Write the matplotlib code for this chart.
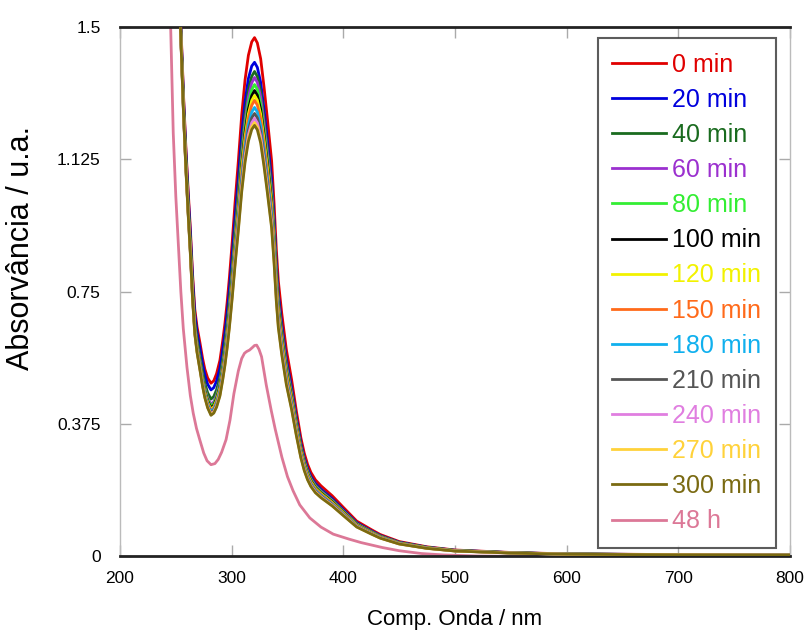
import numpy as np
import matplotlib
matplotlib.use('Agg')
import matplotlib.pyplot as plt

plt.rcParams['font.family'] = ['Liberation Sans', 'DejaVu Sans']

# curva de referência (0 min)
wl_base = [240, 244, 248, 251, 254.6, 257, 259, 261, 263, 265, 267, 269, 271.6, 274, 276,
           278.5, 281.5, 284, 286.5, 289.5, 292, 294, 296, 298, 300.5, 303, 306, 309, 312,
           315, 318, 320.5, 323, 326, 329, 332, 335.8, 338, 340, 341.8, 344.8, 349, 353.7,
           358, 362, 365, 368, 371, 375, 380, 385, 390, 400, 412, 425, 433, 450, 475, 500,
           550, 600, 700, 800]
abs_base = [3.4, 2.8, 2.2, 1.8, 1.5, 1.30, 1.16, 1.04, 0.93, 0.80, 0.70, 0.65, 0.605, 0.56,
            0.53, 0.505, 0.49, 0.497, 0.517, 0.555, 0.61, 0.66, 0.72, 0.79, 0.89, 1.00, 1.12,
            1.25, 1.35, 1.42, 1.458, 1.47, 1.455, 1.41, 1.33, 1.24, 1.12, 1.00, 0.87, 0.78,
            0.69, 0.585, 0.50, 0.41, 0.335, 0.292, 0.260, 0.237, 0.216, 0.199, 0.185, 0.171,
            0.138, 0.099, 0.075, 0.061, 0.041, 0.026, 0.017, 0.01, 0.006, 0.004, 0.003]

# máximos (~321 nm) e mínimos (~282 nm) de cada série
labels = ['0 min', '20 min', '40 min', '60 min', '80 min', '100 min', '120 min',
          '150 min', '180 min', '210 min', '240 min', '270 min', '300 min']
picos = [1.470, 1.400, 1.374, 1.357, 1.337, 1.320, 1.306, 1.292, 1.272, 1.255, 1.241,
         1.229, 1.221]
minimos = [0.490, 0.471, 0.445, 0.430, 0.425, 0.420, 0.416, 0.413, 0.410, 0.406, 0.403,
           0.401, 0.399]
cores = ['#e00000', '#0000dd', '#1a6b1f', '#9b30cf', '#33ee33', '#000000', '#f2f200',
         '#ff6a1a', '#10b0ee', '#555555', '#e07ee0', '#ffd23a', '#7a6a12']

# espectro após 48 h
wl_48h = [236, 240, 243, 245.4, 247.7, 250, 252.5, 254.5, 256.7, 260, 263, 265.6, 268.5,
          271.6, 275, 278, 281.5, 285, 288, 291, 295, 298.5, 302, 306, 309, 311.5, 313.5,
          316, 318.5, 320.5, 322.4, 324.5, 326.8, 331, 335.5, 339, 345, 350, 355, 361, 370,
          380, 391, 405, 416, 435, 450, 470, 490, 520, 600, 800]
abs_48h = [2.6, 2.1, 1.75, 1.5, 1.2, 1.02, 0.87, 0.75, 0.645, 0.535, 0.455, 0.405, 0.362,
           0.328, 0.292, 0.27, 0.259, 0.262, 0.274, 0.294, 0.33, 0.385, 0.46, 0.525, 0.56,
           0.575, 0.58, 0.584, 0.591, 0.597, 0.598, 0.586, 0.565, 0.485, 0.412, 0.36, 0.28,
           0.225, 0.185, 0.145, 0.108, 0.082, 0.062, 0.048, 0.038, 0.024, 0.015, 0.007,
           0.003, 0.0, -0.002, -0.003]

fig = plt.figure(figsize=(8.09, 6.35), dpi=100)
ax = fig.add_axes([0.1483, 0.1244, 0.8282, 0.833])

wl = np.array(wl_base)
base = np.array(abs_base)

ax.plot(wl_48h, abs_48h, color='#dc7897', lw=2, label='48 h', zorder=2)
linhas = []
for i in range(len(labels)):
    fator = np.interp(wl, [250, 281.5, 320.5],
                      [1.0, minimos[i] / minimos[0], picos[i] / picos[0]])
    l, = ax.plot(wl, base * fator, color=cores[i], lw=2, label=labels[i], zorder=3)
    linhas.append(l)

ax.set_xlim(200, 800)
ax.set_ylim(0, 1.5)
ax.set_xticks(range(200, 801, 100))
ax.set_yticks([0, 0.375, 0.75, 1.125, 1.5])
ax.set_yticklabels(['0', '0.375', '0.75', '1.125', '1.5'])
ax.tick_params(direction='in', length=8, width=1, color='#aaaaaa', labelsize=12.5,
               top=True, right=True)
ax.tick_params(axis='y', pad=14)
ax.tick_params(axis='x', pad=11)

for s in ['top', 'bottom']:
    ax.spines[s].set_color('#222222')
    ax.spines[s].set_linewidth(2)
for s in ['left', 'right']:
    ax.spines[s].set_color('#bbbbbb')
    ax.spines[s].set_linewidth(1)

ax.set_xlabel('Comp. Onda / nm', fontsize=16, labelpad=16)
ax.set_ylabel('Absorvância / u.a.', fontsize=22)
ax.yaxis.set_label_coords(-0.125, 0.583)

handles = linhas + [ax.get_lines()[0]]
leg = ax.legend(handles=handles, loc='upper right', bbox_to_anchor=(0.979, 0.979),
                borderaxespad=0, fontsize=18, frameon=True, fancybox=False,
                edgecolor='#333333', handlelength=2.16, handletextpad=0.24,
                labelspacing=0.445, borderpad=0.58)
leg.get_frame().set_linewidth(1.5)
for txt, h in zip(leg.get_texts(), handles):
    txt.set_color(h.get_color())

plt.savefig('out.png', dpi=100)
